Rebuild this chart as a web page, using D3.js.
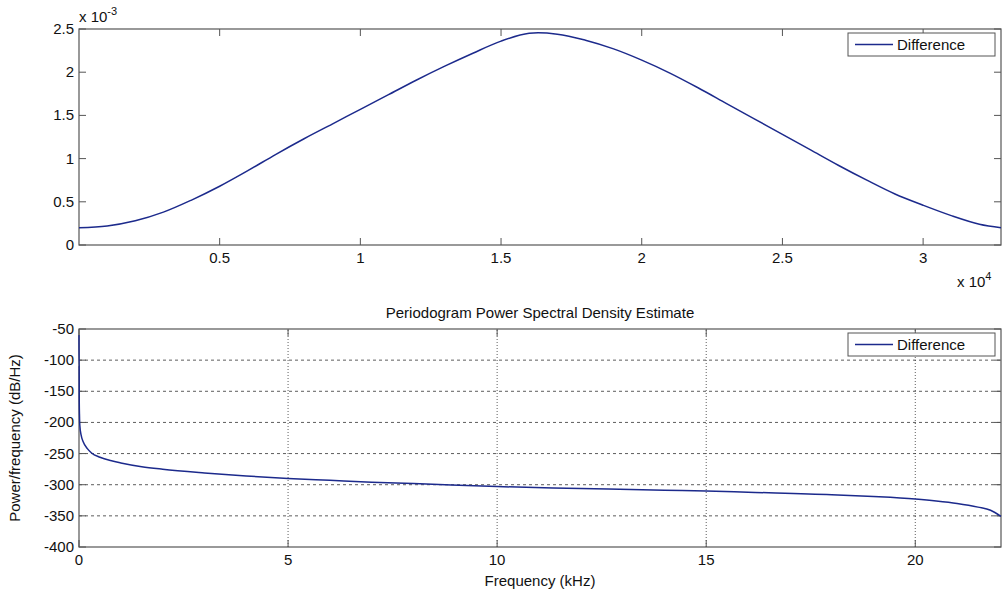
<!DOCTYPE html>
<html>
<head>
<meta charset="utf-8">
<script src="https://cdn.jsdelivr.net/npm/d3@7"></script>
<style>
  body { margin: 0; background: #fff; }
  svg { display: block; font-family: "Liberation Sans", Arial, sans-serif; }
</style>
</head>
<body>
<svg id="canvas" width="1006" height="596"></svg>
<script>
'use strict';

// top plot: difference signal (x in samples, y in units of 1e-3)
var diffX = [1, 1000, 2000, 3000, 4000, 5000, 6000, 7000, 8000, 9000, 10000, 11000, 12000,
  13000, 14000, 15000, 16000, 17000, 18000, 19000, 20000, 21000, 22000, 23000, 24000,
  25000, 26000, 27000, 28000, 29000, 30000, 31000, 32000, 32768];
var diffY = [0.20, 0.22, 0.28, 0.38, 0.52, 0.68, 0.86, 1.05, 1.23, 1.40, 1.57, 1.74, 1.91,
  2.07, 2.22, 2.36, 2.45, 2.44, 2.37, 2.27, 2.14, 1.99, 1.82, 1.64, 1.46,
  1.28, 1.10, 0.92, 0.75, 0.59, 0.46, 0.34, 0.24, 0.20];

// bottom plot: periodogram PSD (kHz, dB/Hz)
var psdF = [0, 0.002, 0.004, 0.006, 0.012, 0.02, 0.05, 0.1, 0.2, 0.3, 0.5, 0.8, 1.0, 1.5, 2, 3, 4, 5,
  6, 7, 8, 10, 12, 14, 15, 16, 18, 19, 20, 20.5, 21, 21.5, 21.8, 22.05];
var psdP = [-60, -112, -110, -168, -190, -205, -220, -231, -242, -249, -256, -262, -265, -271,
  -275, -281, -286, -290, -293, -296, -298, -303, -306, -309, -310, -312, -316, -319, -323,
  -326, -330, -336, -341, -351];

var topXTicks = [5000, 10000, 15000, 20000, 25000, 30000];
var topYTicks = [0, 0.5, 1, 1.5, 2, 2.5];
var botXTicks = [0, 5, 10, 15, 20];
var botYTicks = [-400, -350, -300, -250, -200, -150, -100, -50];

var lineColor = '#1c2a8c';
var axisColor = '#555';
var svg = d3.select('svg#canvas');

// draws a MATLAB-like box with inward ticks on all four sides
function drawBox(g, x, y, xTicks, yTicks, xFmt, yFmt, grid){
  var x0 = x.range()[0], x1 = x.range()[1];
  var y0 = y.range()[0], y1 = y.range()[1];
  var tl = 7;

  if(grid){
    g.selectAll('.hgrid').data(yTicks.filter(function(d){ return d > y.domain()[0] && d < y.domain()[1]; }))
      .enter().append('line')
      .attr('x1', x0).attr('x2', x1)
      .attr('y1', function(d){ return y(d); }).attr('y2', function(d){ return y(d); })
      .attr('stroke', '#333').attr('stroke-width', 0.8).attr('stroke-dasharray', '3,3');
    g.selectAll('.vgrid').data(xTicks.filter(function(d){ return d > x.domain()[0] && d < x.domain()[1]; }))
      .enter().append('line')
      .attr('x1', function(d){ return x(d); }).attr('x2', function(d){ return x(d); })
      .attr('y1', y0).attr('y2', y1)
      .attr('stroke', '#333').attr('stroke-width', 0.8).attr('stroke-dasharray', '1,2');
  }

  var ticks = g.append('g').attr('stroke', axisColor).attr('stroke-width', 1);
  xTicks.forEach(function(d){
    ticks.append('line').attr('x1', x(d)).attr('x2', x(d)).attr('y1', y0).attr('y2', y0 - tl);
    ticks.append('line').attr('x1', x(d)).attr('x2', x(d)).attr('y1', y1).attr('y2', y1 + tl);
  });
  yTicks.forEach(function(d){
    ticks.append('line').attr('x1', x0).attr('x2', x0 + tl).attr('y1', y(d)).attr('y2', y(d));
    ticks.append('line').attr('x1', x1).attr('x2', x1 - tl).attr('y1', y(d)).attr('y2', y(d));
  });

  g.append('rect')
    .attr('x', x0).attr('y', y1).attr('width', x1 - x0).attr('height', y0 - y1)
    .attr('fill', 'none').attr('stroke', axisColor).attr('stroke-width', 1.2);

  g.selectAll('.xl').data(xTicks).enter().append('text')
    .attr('x', function(d){ return x(d); }).attr('y', y0 + 18)
    .attr('text-anchor', 'middle').attr('font-size', 15).attr('fill', '#111')
    .text(xFmt);
  g.selectAll('.yl').data(yTicks).enter().append('text')
    .attr('x', x0 - 5).attr('y', function(d){ return y(d) + 5; })
    .attr('text-anchor', 'end').attr('font-size', 15).attr('fill', '#111')
    .text(yFmt);
}

function drawLegend(g, x, y){
  g.append('rect').attr('x', x).attr('y', y).attr('width', 147).attr('height', 23)
    .attr('fill', '#fff').attr('stroke', axisColor).attr('stroke-width', 1);
  g.append('line').attr('x1', x + 7).attr('x2', x + 45).attr('y1', y + 11.5).attr('y2', y + 11.5)
    .attr('stroke', lineColor).attr('stroke-width', 1.5);
  g.append('text').attr('x', x + 49).attr('y', y + 17).attr('font-size', 15).attr('fill', '#111')
    .text('Difference');
}

/* top plot */
var xTop = d3.scaleLinear().domain([1, 32768]).range([79, 1001]);
var yTop = d3.scaleLinear().domain([0, 2.5]).range([245, 29]);
var gTop = svg.append('g');
drawBox(gTop, xTop, yTop, topXTicks, topYTicks,
  function(d){ return d / 10000; }, function(d){ return d; }, false);

gTop.append('path')
  .datum(diffX.map(function(d, i){ return [d, diffY[i]]; }))
  .attr('fill', 'none').attr('stroke', lineColor).attr('stroke-width', 1.5)
  .attr('d', d3.line().x(function(d){ return xTop(d[0]); }).y(function(d){ return yTop(d[1]); })
    .curve(d3.curveCatmullRom));

var e1 = gTop.append('text').attr('x', 79).attr('y', 22).attr('font-size', 15).attr('fill', '#111');
e1.append('tspan').text('x 10');
e1.append('tspan').attr('dy', -7).attr('font-size', 11).text('-3');

var e2 = gTop.append('text').attr('x', 957).attr('y', 287).attr('font-size', 15).attr('fill', '#111');
e2.append('tspan').text('x 10');
e2.append('tspan').attr('dy', -7).attr('font-size', 11).text('4');

drawLegend(gTop, 848, 33);

/* bottom plot */
var xBot = d3.scaleLinear().domain([0, 22.05]).range([79, 1001]);
var yBot = d3.scaleLinear().domain([-400, -50]).range([547, 329]);
var gBot = svg.append('g');
drawBox(gBot, xBot, yBot, botXTicks, botYTicks,
  function(d){ return d; }, function(d){ return d; }, true);

gBot.append('path')
  .datum(psdF.map(function(d, i){ return [d, psdP[i]]; }))
  .attr('fill', 'none').attr('stroke', lineColor).attr('stroke-width', 1.5)
  .attr('d', d3.line().x(function(d){ return xBot(d[0]); }).y(function(d){ return yBot(d[1]); })
    .curve(d3.curveMonotoneX));

drawLegend(gBot, 848, 333);

gBot.append('text').attr('x', 540).attr('y', 318).attr('text-anchor', 'middle')
  .attr('font-size', 15).attr('fill', '#111').text('Periodogram Power Spectral Density Estimate');
gBot.append('text').attr('x', 540).attr('y', 586).attr('text-anchor', 'middle')
  .attr('font-size', 15).attr('fill', '#111').text('Frequency (kHz)');
gBot.append('text').attr('transform', 'translate(20,438) rotate(-90)').attr('text-anchor', 'middle')
  .attr('font-size', 15).attr('fill', '#111').text('Power/frequency (dB/Hz)');
</script>
</body>
</html>
